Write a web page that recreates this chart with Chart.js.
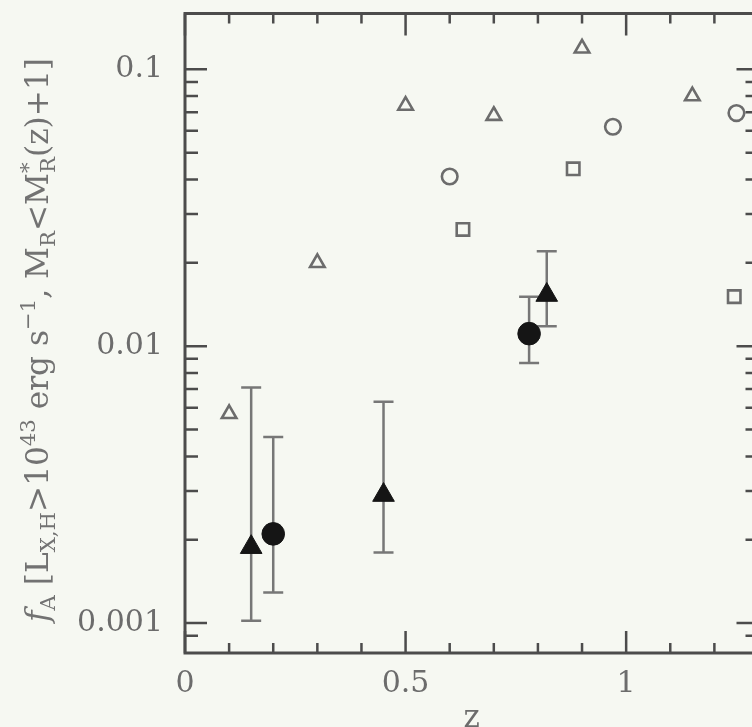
<!DOCTYPE html>
<html>
<head>
<meta charset="utf-8">
<script src="https://cdn.jsdelivr.net/npm/chart.js@4/dist/chart.umd.min.js"></script>
<style>
  html, body { margin: 0; padding: 0; background: #f6f8f2; overflow: hidden; width: 752px; height: 727px; }
  canvas { display: block; }
</style>
</head>
<body>
<!-- the plot frame runs a little past the right edge of the page, as in the scan -->
<canvas id="myChart" width="772" height="727"></canvas>
<script>
// open symbols (no error bars)
const openTriZ = [0.10, 0.30, 0.50, 0.70, 0.90, 1.15];
const openTriF = [0.0057, 0.020, 0.074, 0.068, 0.119, 0.080];
const openCircZ = [0.60, 0.97, 1.25];
const openCircF = [0.041, 0.062, 0.0695];
const openSqZ = [0.63, 0.88, 1.245];
const openSqF = [0.0264, 0.0437, 0.0151];

// filled symbols with error bars
const fillTriZ = [0.15, 0.45, 0.82];
const fillTriF = [0.00188, 0.0029, 0.0153];
const fillTriLo = [0.00102, 0.0018, 0.0118];
const fillTriHi = [0.0071, 0.0063, 0.022];
const fillCircZ = [0.20, 0.78];
const fillCircF = [0.0021, 0.0111];
const fillCircLo = [0.00129, 0.0087];
const fillCircHi = [0.0047, 0.0151];

const xTickLabels = [0, 0.5, 1];
const yTickLabels = [0.001, 0.01, 0.1];

const yTitleParts = [
  ['f', 'it'], ['A', 'sub'], [' [L', 'n'], ['X,H', 'sub'], ['>10', 'n'], ['43', 'sup'],
  [' erg s', 'n'], ['\u22121', 'sup'], [', M', 'n'], ['R', 'sub'], ['<M', 'n'],
  ['*', 'supsub', 'R'], ['(z)+1]', 'n']
];

const pts = (xs, ys) => xs.map((x, i) => ({ x: x, y: ys[i] }));

const ink = '#4c4c4c';
const grey = '#6c6c6c';
const serif = '"DejaVu Serif", serif';

const errorBars = {
  id: 'errorBars',
  beforeDatasetsDraw(chart) {
    const ctx = chart.ctx;
    const xs = chart.scales.x, ys = chart.scales.y;
    ctx.save();
    ctx.strokeStyle = '#777';
    ctx.lineWidth = 2.5;
    chart.data.datasets.forEach(ds => {
      if (!ds.errLo) return;
      ds.data.forEach((p, i) => {
        const px = xs.getPixelForValue(p.x);
        const y1 = ys.getPixelForValue(ds.errLo[i]);
        const y2 = ys.getPixelForValue(ds.errHi[i]);
        ctx.beginPath();
        ctx.moveTo(px, y1); ctx.lineTo(px, y2);
        ctx.moveTo(px - 10, y1); ctx.lineTo(px + 10, y1);
        ctx.moveTo(px - 10, y2); ctx.lineTo(px + 10, y2);
        ctx.stroke();
      });
    });
    ctx.restore();
  }
};

const frameTicks = {
  id: 'frameTicks',
  afterDatasetsDraw(chart) {
    const ctx = chart.ctx;
    const a = chart.chartArea;
    const xs = chart.scales.x, ys = chart.scales.y;
    ctx.save();
    ctx.strokeStyle = ink;
    ctx.lineWidth = 3;
    ctx.strokeRect(a.left, a.top, a.right - a.left, a.bottom - a.top);
    ctx.lineWidth = 2.5;
    ys.ticks.forEach(t => {
      const e = Math.floor(Math.log10(t.value) + 1e-9);
      const m = t.value / Math.pow(10, e);
      if (Math.abs(m - Math.round(m)) > 1e-6) return;
      const len = Math.round(m) === 1 ? 22 : 13;
      const py = ys.getPixelForValue(t.value);
      ctx.beginPath();
      ctx.moveTo(a.left, py); ctx.lineTo(a.left + len, py);
      ctx.moveTo(a.right, py); ctx.lineTo(a.right - len, py);
      ctx.stroke();
    });
    xs.ticks.forEach(t => {
      const k = t.value * 10;
      if (Math.abs(k - Math.round(k)) > 1e-6) return;
      const len = Math.round(k) % 5 === 0 ? 22 : 10;
      const px = xs.getPixelForValue(t.value);
      ctx.beginPath();
      ctx.moveTo(px, a.bottom); ctx.lineTo(px, a.bottom - len);
      ctx.moveTo(px, a.top); ctx.lineTo(px, a.top + len);
      ctx.stroke();
    });
    ctx.restore();
  }
};

const yTitle = {
  id: 'yTitle',
  afterDraw(chart) {
    const ctx = chart.ctx;
    const fontFor = (kind, s) => (kind === 'it' ? 'italic ' : '') + s + 'px ' + serif;
    const measure = (s) => {
      let w = 0;
      yTitleParts.forEach(p => {
        const kind = p[1];
        const fs = kind === 'n' || kind === 'it' ? s : s * 0.68;
        ctx.font = fontFor(kind, fs);
        let pw = ctx.measureText(p[0]).width;
        if (p[2]) pw = Math.max(pw, ctx.measureText(p[2]).width);
        w += pw;
      });
      return w;
    };
    ctx.save();
    const size = 564 / measure(100) * 100;
    const total = measure(size);
    ctx.translate(48, 340);
    ctx.rotate(-Math.PI / 2);
    ctx.fillStyle = '#727272';
    ctx.textBaseline = 'alphabetic';
    let x = -total / 2;
    yTitleParts.forEach(p => {
      const kind = p[1];
      const small = size * 0.68;
      if (kind === 'n' || kind === 'it') {
        ctx.font = fontFor(kind, size);
        ctx.fillText(p[0], x, 0);
        x += ctx.measureText(p[0]).width;
      } else {
        ctx.font = fontFor(kind, small);
        let w = ctx.measureText(p[0]).width;
        const dy = kind === 'sub' ? size * 0.22 : -size * 0.42;
        ctx.fillText(p[0], x, dy);
        if (p[2]) {
          ctx.fillText(p[2], x, size * 0.22);
          w = Math.max(w, ctx.measureText(p[2]).width);
        }
        x += w;
      }
    });
    ctx.restore();
  }
};

const isIn = (list, v) => list.some(l => Math.abs(l - v) / Math.max(l, 1e-9) < 1e-6 || Math.abs(l - v) < 1e-9);

const ctx = document.getElementById('myChart');

const config = {
  type: 'scatter',
  data: {
    datasets: [
      {
        label: 'open triangles',
        data: pts(openTriZ, openTriF),
        pointStyle: 'triangle', pointRadius: 8.4,
        borderColor: grey, backgroundColor: 'rgba(0,0,0,0)', borderWidth: 2.6
      },
      {
        label: 'open circles',
        data: pts(openCircZ, openCircF),
        pointStyle: 'circle', pointRadius: 7.8,
        borderColor: grey, backgroundColor: 'rgba(0,0,0,0)', borderWidth: 2.6
      },
      {
        label: 'open squares',
        data: pts(openSqZ, openSqF),
        pointStyle: 'rect', pointRadius: 8.8,
        borderColor: grey, backgroundColor: 'rgba(0,0,0,0)', borderWidth: 2.6
      },
      {
        label: 'filled triangles',
        data: pts(fillTriZ, fillTriF),
        errLo: fillTriLo, errHi: fillTriHi,
        pointStyle: 'triangle', pointRadius: 12.5,
        borderColor: '#151515', backgroundColor: '#151515', borderWidth: 1
      },
      {
        label: 'filled circles',
        data: pts(fillCircZ, fillCircF),
        errLo: fillCircLo, errHi: fillCircHi,
        pointStyle: 'circle', pointRadius: 11.3,
        borderColor: '#151515', backgroundColor: '#151515', borderWidth: 1
      }
    ]
  },
  options: {
    responsive: false,
    animation: false,
    events: [],
    layout: { padding: { top: 11, right: 0, left: 0, bottom: 0 } },
    plugins: { legend: { display: false }, tooltip: { enabled: false } },
    scales: {
      x: {
        type: 'linear', min: 0, max: 1.3,
        grid: { display: false, drawTicks: false },
        border: { display: false },
        ticks: {
          stepSize: 0.1, includeBounds: false, autoSkip: false, maxRotation: 0, minRotation: 0,
          padding: 13, color: grey, font: { family: serif, size: 30 },
          callback: v => isIn(xTickLabels, v) ? String(Math.round(v * 10) / 10) : ''
        },
        title: {
          display: true, text: 'z', color: grey,
          font: { family: serif, size: 31, lineHeight: 0.55 },
          padding: { top: 0, bottom: 0 }
        },
        afterFit: s => { s.height = 74; s.paddingLeft = 0; s.paddingRight = 0; }
      },
      y: {
        type: 'logarithmic', min: 0.00078, max: 0.159,
        grid: { display: false, drawTicks: false },
        border: { display: false },
        ticks: {
          autoSkip: false, padding: 22, color: grey, font: { family: serif, size: 30 },
          callback: v => isIn(yTickLabels, v) ? String(Number(v.toPrecision(1))) : ''
        },
        afterFit: s => { s.width = 185; s.paddingTop = 0; s.paddingBottom = 0; }
      }
    }
  },
  plugins: [errorBars, frameTicks, yTitle]
};

if (ctx) {
  const myChart = new Chart(ctx, config);
}
</script>
</body>
</html>
